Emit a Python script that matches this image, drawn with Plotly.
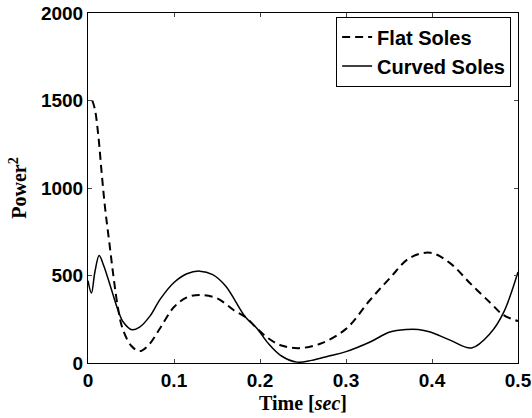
import plotly.graph_objects as go

flat_t = [0.005, 0.008, 0.012, 0.016, 0.02, 0.025, 0.03, 0.035, 0.04, 0.05, 0.06, 0.07, 0.084,
          0.1, 0.115, 0.13, 0.15, 0.17, 0.183, 0.196, 0.21, 0.225, 0.245, 0.27, 0.3, 0.328,
          0.351, 0.374, 0.398, 0.421, 0.444, 0.468, 0.483, 0.5]
flat_p = [1500, 1450, 1300, 1080, 880, 680, 480, 310, 200, 100, 68, 100, 200,
          320, 375, 389, 370, 300, 263, 200, 140, 100, 85, 110, 195, 360,
          485, 600, 630, 571, 457, 343, 274, 240]

curved_t = [0.0, 0.004, 0.008, 0.013, 0.018, 0.026, 0.035, 0.041, 0.051, 0.06, 0.072, 0.084,
            0.1, 0.115, 0.13, 0.145, 0.16, 0.183, 0.196, 0.21, 0.225, 0.243, 0.26, 0.28, 0.3,
            0.328, 0.351, 0.37, 0.384, 0.398, 0.421, 0.446, 0.468, 0.483, 0.5]
curved_p = [470, 400, 520, 615, 560, 440, 300, 234, 190, 205, 268, 365,
            460, 510, 525, 505, 440, 263, 200, 110, 40, 5, 15, 40, 65,
            120, 177, 192, 192, 177, 131, 86, 171, 286, 520]

x_ticks = [0, 0.1, 0.2, 0.3, 0.4, 0.5]
x_labels = ["0", "0.1", "0.2", "0.3", "0.4", "0.5"]
y_ticks = [0, 500, 1000, 1500, 2000]

fig = go.Figure()
fig.add_trace(go.Scatter(x=flat_t, y=flat_p, mode="lines", name="Flat Soles",
                         line=dict(color="black", width=2, dash="8px,5px", shape="spline")))
fig.add_trace(go.Scatter(x=curved_t, y=curved_p, mode="lines", name="Curved Soles",
                         line=dict(color="black", width=1.5, shape="spline")))

sans = "Liberation Sans, Arial, sans-serif"
serif = "Liberation Serif, Times New Roman, serif"
tickfont = dict(family=sans, size=19, color="black", weight="bold")
fig.update_layout(
    width=532, height=418,
    margin=dict(l=88, r=14, t=13, b=55, autoexpand=False),
    paper_bgcolor="white", plot_bgcolor="white",
    showlegend=True,
    legend=dict(x=0.984, y=0.99, xanchor="right", yanchor="top",
                bgcolor="white", bordercolor="black", borderwidth=1,
                font=dict(family=sans, size=20, color="black", weight="bold"),
                tracegroupgap=0, itemwidth=30),
    xaxis=dict(range=[0, 0.5], tickvals=x_ticks, ticktext=x_labels, ticks="inside", ticklen=4,
               showline=True, linecolor="black", linewidth=1, mirror="ticks", showgrid=False,
               zeroline=False, tickfont=tickfont, automargin=False, ticklabeloverflow="allow",
               title=dict(text="<b>Time [<i>sec</i>]</b>", standoff=6,
                          font=dict(family=serif, size=20, color="black"))),
    yaxis=dict(range=[0, 2000], tickvals=y_ticks, ticks="inside", ticklen=4,
               showline=True, linecolor="black", linewidth=1, mirror="ticks", showgrid=False,
               zeroline=False, tickfont=tickfont, automargin=False, ticklabeloverflow="allow",
               title=dict(text="<b>Power<sup>2</sup></b>", standoff=8,
                          font=dict(family=serif, size=20, color="black"))),
)

fig.write_html("out.html", config={"displayModeBar": False},
               post_script="document.body.style.margin='0px';")
